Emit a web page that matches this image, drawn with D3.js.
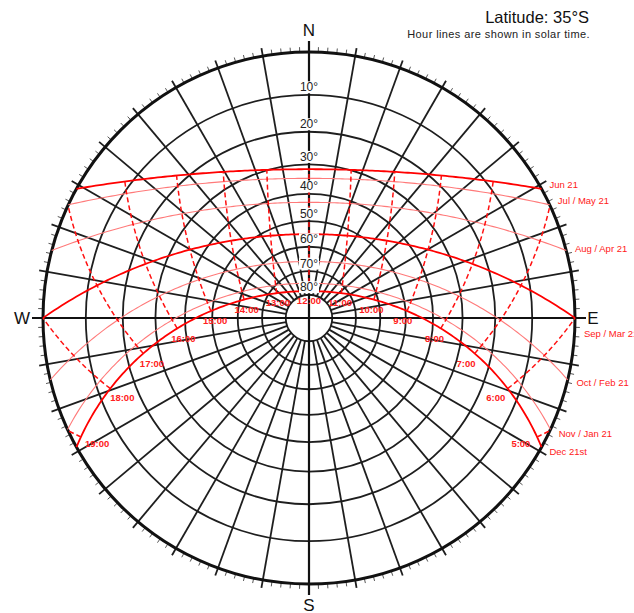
<!DOCTYPE html>
<html>
<head>
<meta charset="utf-8">
<script src="https://cdn.jsdelivr.net/npm/d3@7"></script>
<style>
body { margin: 0; background: #fff; }
text { font-family: "Liberation Sans", Arial, sans-serif; }
</style>
</head>
<body>
<svg id="chart" width="634" height="613"></svg>
<script>
// chart data
var latitude = -35;
var altitudeRings = [10, 20, 30, 40, 50, 60, 70, 80];
var ringLabels = ["10°", "20°", "30°", "40°", "50°", "60°", "70°", "80°"];
var dateLabels = ["Jun 21", "Jul / May 21", "Aug / Apr 21", "Sep / Mar 21", "Oct / Feb 21", "Nov / Jan 21", "Dec 21st"];
var declinations = [23.44, 20.4, 12.0, 0, -11.0, -20.1, -23.44];
var majorDates = [true, false, false, true, false, false, true];
var hours = [5, 6, 7, 8, 9, 10, 11, 12, 13, 14, 15, 16, 17, 18, 19];
var hourLabels = ["5:00", "6:00", "7:00", "8:00", "9:00", "10:00", "11:00", "12:00",
                  "13:00", "14:00", "15:00", "16:00", "17:00", "18:00", "19:00"];
var cardinals = ["N", "E", "S", "W"];
var cardinalAz = [0, 90, 180, 270];

var cx = 309, cy = 318, R = 266;
var rad = Math.PI / 180;

var svg = d3.select("#chart");
var g = svg.append("g").attr("transform", "translate(" + cx + "," + cy + ")");

// stereographic: radius is linear in tan(zenith/2)
var r = d3.scaleLinear().domain([0, 1]).range([0, R]);
function radius(alt) { return r(Math.tan((90 - alt) / 2 * rad)); }
function pt(az, rr) { return [rr * Math.sin(az * rad), -rr * Math.cos(az * rad)]; }

function sun(dec, H) {
    var p = latitude * rad, d = dec * rad, h = H * rad;
    var s = Math.sin(p) * Math.sin(d) + Math.cos(p) * Math.cos(d) * Math.cos(h);
    var alt = Math.asin(Math.max(-1, Math.min(1, s))) / rad;
    var az = Math.atan2(-Math.cos(d) * Math.sin(h),
        Math.sin(d) * Math.cos(p) - Math.cos(d) * Math.cos(h) * Math.sin(p)) / rad;
    return { alt: Math.max(0, alt), az: az, raw: alt };
}

var path = d3.lineRadial()
    .angle(function(d) { return d.az * rad; })
    .radius(function(d) { return radius(d.alt); });

var gridColor = "#1e1e1e";

// altitude rings
g.selectAll(".ring").data(altitudeRings).enter().append("circle")
    .attr("r", function(d) { return radius(d); })
    .attr("fill", "none")
    .attr("stroke", gridColor)
    .attr("stroke-width", 1.8);

// azimuth spokes every 10 deg
var spokes = d3.range(0, 360, 10).filter(function(a) { return a % 90 !== 0; });
g.selectAll(".spoke").data(spokes).enter().append("line")
    .attr("x1", function(d) { return pt(d, radius(80))[0]; })
    .attr("y1", function(d) { return pt(d, radius(80))[1]; })
    .attr("x2", function(d) { return pt(d, R + 8)[0]; })
    .attr("y2", function(d) { return pt(d, R + 8)[1]; })
    .attr("stroke", gridColor)
    .attr("stroke-width", 1.8);

// minor ticks on the horizon
var ticks = d3.range(0, 360, 2).filter(function(a) { return a % 10 !== 0; });
g.selectAll(".tick").data(ticks).enter().append("line")
    .attr("x1", function(d) { return pt(d, R)[0]; })
    .attr("y1", function(d) { return pt(d, R)[1]; })
    .attr("x2", function(d) { return pt(d, R + 5)[0]; })
    .attr("y2", function(d) { return pt(d, R + 5)[1]; })
    .attr("stroke", "#555")
    .attr("stroke-width", 1);

// horizon
g.append("circle").attr("r", R).attr("fill", "none")
    .attr("stroke", "#111").attr("stroke-width", 3);

// N-S and E-W axes
[0, 90].forEach(function(a) {
    var p1 = pt(a, R + 11), p2 = pt(a + 180, R + 11);
    g.append("line")
        .attr("x1", p1[0]).attr("y1", p1[1]).attr("x2", p2[0]).attr("y2", p2[1])
        .attr("stroke", "#111").attr("stroke-width", 2.2);
});

// cardinal letters
var cardOff = [22, 18, 21, 21];
g.selectAll(".card").data(cardinals).enter().append("text")
    .attr("x", function(d, i) { return pt(cardinalAz[i], R + cardOff[i])[0]; })
    .attr("y", function(d, i) { return pt(cardinalAz[i], R + cardOff[i])[1]; })
    .attr("text-anchor", "middle")
    .attr("dominant-baseline", "central")
    .attr("font-size", 17)
    .attr("fill", "#111")
    .text(function(d) { return d; });

// date lines
declinations.forEach(function(dec, i) {
    var H0 = Math.acos(-Math.tan(latitude * rad) * Math.tan(dec * rad)) / rad;
    var hs = d3.range(-H0, H0, 1).concat([H0]);
    var pts = hs.map(function(h) { return sun(dec, h); });
    g.append("path")
        .attr("d", path(pts))
        .attr("fill", "none")
        .attr("stroke", majorDates[i] ? "#ff0000" : "#ff7a7a")
        .attr("stroke-width", majorDates[i] ? 1.8 : 1.1);

    // label just outside the sunrise point; the equinox one drops below "E"
    var az = sun(dec, -H0).az;
    var lp = pt(az, R + 9);
    g.append("text")
        .attr("x", lp[0])
        .attr("y", lp[1] + (Math.abs(az - 90) < 2 ? 15 : 0))
        .attr("dominant-baseline", "central")
        .attr("font-size", 9.5)
        .attr("fill", "#ff2020")
        .text(dateLabels[i]);
});

// hour lines (solar time)
var decMin = d3.min(declinations), decMax = d3.max(declinations);
hours.forEach(function(hr, i) {
    var H = (hr - 12) * 15;
    var hi = decMax;
    if (sun(decMax, H).raw < 0) {
        hi = Math.atan(-Math.cos(latitude * rad) * Math.cos(H * rad) / Math.sin(latitude * rad)) / rad;
    }
    var ds = d3.range(decMin, hi, 0.5).concat([hi]);
    var pts = ds.map(function(d) { return sun(d, H); });
    g.append("path")
        .attr("d", path(pts))
        .attr("fill", "none")
        .attr("stroke", "#ff1010")
        .attr("stroke-width", 1.5)
        .attr("stroke-dasharray", "5,3");

    var s = sun(decMin - 4, H);
    var lp = pt(s.az, radius(s.alt));
    g.append("text")
        .attr("x", lp[0]).attr("y", lp[1])
        .attr("text-anchor", "middle")
        .attr("dominant-baseline", "central")
        .attr("font-size", 9.5)
        .attr("font-weight", "bold")
        .attr("fill", "#ff2020")
        .text(hourLabels[i]);
});

// altitude labels with white backing
var lab = g.selectAll(".alab").data(altitudeRings).enter().append("g")
    .attr("transform", function(d) { return "translate(0," + (-radius(d) - 7.5) + ")"; });
lab.append("rect")
    .attr("x", -10).attr("y", -6).attr("width", 20).attr("height", 12)
    .attr("fill", "#fff");
lab.append("text")
    .attr("text-anchor", "middle")
    .attr("dominant-baseline", "central")
    .attr("font-size", 12)
    .attr("fill", "#222")
    .text(function(d, i) { return ringLabels[i]; });

// title
svg.append("text")
    .attr("x", 589).attr("y", 23)
    .attr("text-anchor", "end")
    .attr("font-size", 16.5)
    .attr("fill", "#111")
    .text("Latitude: 35°S");
svg.append("text")
    .attr("x", 590).attr("y", 38)
    .attr("text-anchor", "end")
    .attr("font-size", 11)
    .attr("letter-spacing", 0.4)
    .attr("fill", "#222")
    .text("Hour lines are shown in solar time.");
</script>
</body>
</html>
